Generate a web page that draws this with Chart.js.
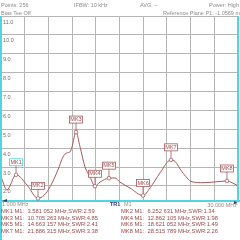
<!DOCTYPE html>
<html>
<head>
<meta charset="utf-8">
<script src="https://cdn.jsdelivr.net/npm/chart.js@4.4.0/dist/chart.umd.min.js"></script>
<style>
  html, body { margin: 0; padding: 0; background: #fff; }
  #wrap { position: relative; width: 240px; height: 240px; overflow: hidden; font-family: "Liberation Sans", Arial, sans-serif; }
  #c { position: absolute; left: 0; top: 0; }
  .t { position: absolute; white-space: pre; font-size: 5.5px; line-height: 6px; color: #8c8c8c; }
  .mk { color: #9a4a4a; font-size: 5.8px; }
</style>
</head>
<body>
<div id="wrap">
  <canvas id="c" width="240" height="240"></canvas>
  <div class="t" style="left:1px;top:2px">Points: 256</div>
  <div class="t" style="left:1px;top:10px">Bias Tee Off</div>
  <div class="t" style="left:74px;top:2px">IFBW: 10 kHz</div>
  <div class="t" style="left:140px;top:2px">AVG: --</div>
  <div class="t" style="right:1px;top:2px">Power: High</div>
  <div class="t" style="right:0px;top:10px">Reference Plane P1: -1.0569 m</div>

  <div class="t" style="left:2px;top:201px">1.000 MHz</div>
  <div class="t" style="left:110px;top:201px;color:#2b3a78;font-weight:bold">TR1</div>
  <div class="t" style="left:124px;top:201px">M1</div>
  <div class="t" style="right:3px;top:202px">30.000 MHz</div>

  <div class="t mk" style="left:1px;top:208px">MK1 M1:  3.581 052 MHz,SWR:2.59</div>
  <div class="t mk" style="left:1px;top:214.5px">MK3 M1:  10.705 263 MHz,SWR:4.85</div>
  <div class="t mk" style="left:1px;top:221px">MK5 M1:  14.663 157 MHz,SWR:2.41</div>
  <div class="t mk" style="left:1px;top:227.5px">MK7 M1:  21.886 315 MHz,SWR:3.38</div>
  <div class="t mk" style="left:121px;top:208px">MK2 M1:  6.252 631 MHz,SWR:1.34</div>
  <div class="t mk" style="left:121px;top:214.5px">MK4 M1:  12.862 105 MHz,SWR:1.98</div>
  <div class="t mk" style="left:121px;top:221px">MK6 M1:  18.621 052 MHz,SWR:1.49</div>
  <div class="t mk" style="left:121px;top:227.5px">MK8 M1:  28.515 789 MHz,SWR:2.26</div>
</div>
<script>
// trace (MHz, SWR)
const freq = [1.0, 1.73, 2.84, 4.18, 5.53, 6.26, 7.0, 7.97, 8.59, 9.08, 9.44, 9.69, 10.18, 10.67, 11.28, 11.89, 12.5, 13.11, 14.21, 14.95, 15.56, 16.78, 18.38, 19.23, 20.46, 21.8, 22.29, 23.15, 24.37, 25.72, 27.43, 28.65, 29.27, 30.0];
const swr  = [2.48, 1.79, 2.59, 2.05, 1.34, 1.5, 1.95, 2.85, 3.54, 3.75, 3.8, 4.07, 4.85, 4.07, 3.0, 2.48, 1.98, 2.2, 2.41, 2.42, 2.2, 1.89, 1.49, 1.89, 2.69, 3.38, 3.3, 2.75, 2.22, 2.17, 2.22, 2.26, 2.17, 2.0];

// markers: name + index into trace
const mkNames = ["MK1", "MK2", "MK3", "MK4", "MK5", "MK6", "MK7", "MK8"];
const mkIdx   = [2, 4, 12, 16, 18, 22, 25, 31];

const xGrid = [1, 3.9, 6.8, 9.7, 12.6, 15.5, 18.4, 21.3, 24.2, 27.1, 30];
const yTicks = [2, 3, 4, 5, 6, 7, 8, 9, 10, 11];

const traceColor = '#a5585a';
const cyan = '#4fd6e0';

const markerPlugin = {
  id: 'markers',
  afterDatasetsDraw(chart) {
    const ctx = chart.ctx;
    const xs = chart.scales.x, ys = chart.scales.y;
    const a = chart.chartArea;
    ctx.save();
    // screen borders
    ctx.strokeStyle = cyan;
    ctx.lineWidth = 2;
    ctx.beginPath();
    ctx.moveTo(a.left, a.top); ctx.lineTo(a.left, 240);
    ctx.moveTo(a.right, a.top); ctx.lineTo(a.right, a.bottom);
    ctx.moveTo(0, a.bottom); ctx.lineTo(240, a.bottom);
    ctx.stroke();
    // span end arrows
    ctx.fillStyle = '#2b3a78';
    ctx.beginPath();
    ctx.moveTo(2, a.bottom); ctx.lineTo(7, a.bottom - 2); ctx.lineTo(7, a.bottom + 1); ctx.closePath();
    ctx.fill();
    ctx.beginPath();
    ctx.moveTo(238, a.bottom + 2); ctx.lineTo(234, a.bottom); ctx.lineTo(234, a.bottom + 3); ctx.closePath();
    ctx.fill();

    ctx.font = '5.5px "Liberation Sans", Arial, sans-serif';
    ctx.textAlign = 'center';
    ctx.textBaseline = 'middle';
    ctx.lineWidth = 0.8;
    mkIdx.forEach((idx, i) => {
      const px = xs.getPixelForValue(freq[idx]);
      const py = ys.getPixelForValue(swr[idx]);
      const col = i === 0 ? cyan : traceColor;
      // stem
      ctx.strokeStyle = traceColor;
      ctx.beginPath();
      ctx.moveTo(px, py - 9); ctx.lineTo(px, py - 2);
      ctx.stroke();
      // point
      ctx.fillStyle = '#fff';
      ctx.beginPath();
      ctx.arc(px, py, 1.8, 0, Math.PI * 2);
      ctx.fill(); ctx.stroke();
      // label box
      ctx.fillStyle = '#fff';
      ctx.fillRect(px - 6.5, py - 16, 13, 7);
      ctx.strokeStyle = col;
      ctx.strokeRect(px - 6.5, py - 16, 13, 7);
      ctx.fillStyle = '#9a4a4a';
      ctx.fillText(mkNames[i], px, py - 12.4);
    });
    ctx.restore();
  }
};

new Chart(document.getElementById('c'), {
  type: 'line',
  data: {
    datasets: [{
      data: freq.map((f, i) => ({ x: f, y: swr[i] })),
      borderColor: traceColor,
      borderWidth: 1,
      pointRadius: 0,
      cubicInterpolationMode: 'monotone',
      fill: false
    }]
  },
  options: {
    responsive: false,
    animation: false,
    layout: { padding: { left: 1, right: 2, top: 16, bottom: 39 } },
    plugins: { legend: { display: false }, tooltip: { enabled: false } },
    scales: {
      x: {
        type: 'linear',
        min: 1, max: 30,
        afterFit(s) { s.height = 0; },
        afterBuildTicks(s) { s.ticks = xGrid.map(v => ({ value: v })); },
        ticks: { display: false },
        grid: { color: '#b5b5b5', lineWidth: 1, drawTicks: false },
        border: { display: false }
      },
      y: {
        min: 1.2, max: 11,
        afterFit(s) { s.width = 0; },
        afterBuildTicks(s) { s.ticks = yTicks.map(v => ({ value: v })); },
        ticks: {
          mirror: true,
          padding: 2,
          labelOffset: 6,
          color: '#707070',
          font: { size: 5.5, family: '"Liberation Sans", Arial, sans-serif' },
          callback: v => v.toFixed(1)
        },
        grid: { color: '#b5b5b5', lineWidth: 1, drawTicks: false },
        border: { display: false }
      }
    }
  },
  plugins: [markerPlugin]
});
</script>
</body>
</html>
